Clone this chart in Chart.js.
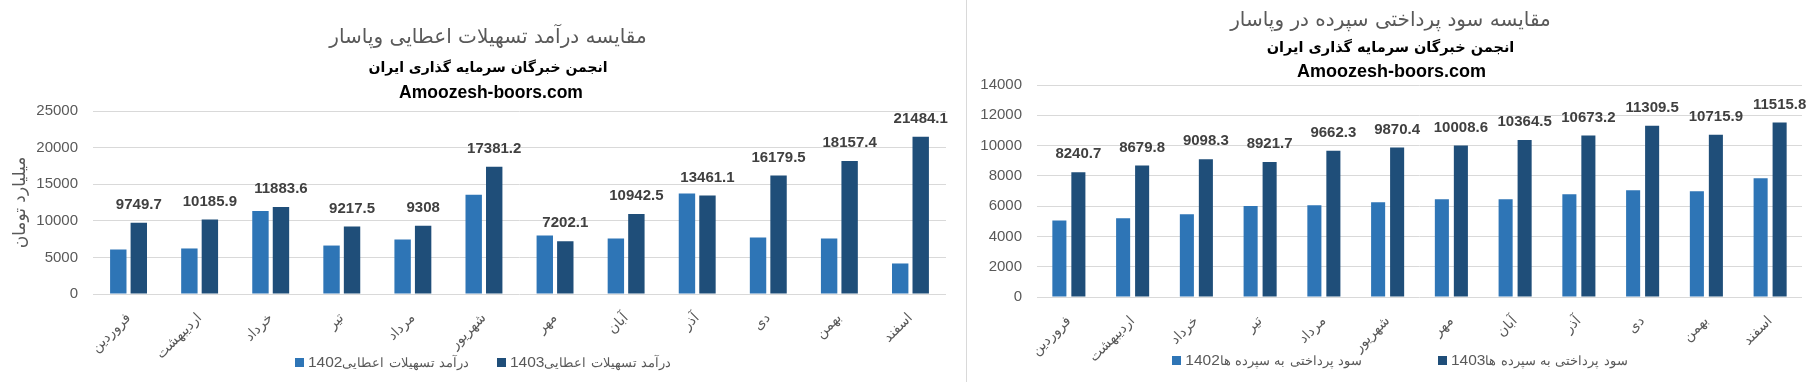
<!DOCTYPE html>
<html>
<head>
<meta charset="utf-8">
<script src="https://cdn.jsdelivr.net/npm/chart.js@4.4.0/dist/chart.umd.min.js"></script>
<style>
@font-face { font-family: "LegendFa"; src: local("DejaVu Sans"); unicode-range: U+0600-06FF, U+200C-200D, U+FB50-FDFF, U+FE70-FEFF; size-adjust: 84%; }
html, body { margin: 0; padding: 0; background: #fff; }
#wrap { position: relative; width: 1812px; height: 382px; overflow: hidden; }
.panel { position: absolute; top: 0; height: 382px; }
#p1 { left: 0; width: 966px; }
#p2 { left: 966px; width: 846px; border-left: 1px solid #d9d9d9; box-sizing: border-box; }
canvas { position: absolute; left: 0; top: 0; }
.site { position: absolute; left: 0; right: 0; text-align: center; font-family: "Liberation Sans", sans-serif; font-weight: bold; color: #000; line-height: 24px; }
#site1 { top: 80px; font-size: 17.5px; padding-left: 16px; }
#site2 { top: 59px; font-size: 18px; padding-left: 4px; }
.legend { position: absolute; left: 0; right: 0; height: 22px; display: flex; justify-content: center; align-items: center;
  font-family: "Liberation Sans", "LegendFa", "DejaVu Sans", sans-serif; font-size: 15.5px; color: #595959; }
.legend .item { display: flex; align-items: center; }
.legend .box { width: 9px; height: 9px; margin-right: 4px; }
#lg1 { top: 351px; gap: 28px; }
#lg2 { top: 349px; gap: 76px; padding-left: 21px; }
</style>
</head>
<body>
<div id="wrap">
  <div class="panel" id="p1"><canvas id="c1" width="966" height="382"></canvas><div class="site" id="site1"></div><div class="legend" id="lg1"></div></div>
  <div class="panel" id="p2"><canvas id="c2" width="845" height="382"></canvas><div class="site" id="site2"></div><div class="legend" id="lg2"></div></div>
</div>
<script>
// months of the Persian year, left to right as in the picture
const months = ['فروردین', 'اردیبهشت', 'خرداد', 'تیر', 'مرداد', 'شهریور', 'مهر', 'آبان', 'آذر', 'دی', 'بهمن', 'اسفند'];

// left chart: loan income (billion toman)
const loanIncome1402 = [6080, 6220, 11350, 6620, 7440, 13570, 7990, 7580, 13720, 7710, 7580, 4170];
const loanIncome1403 = [9749.7, 10185.9, 11883.6, 9217.5, 9308, 17381.2, 7202.1, 10942.5, 13461.1, 16179.5, 18157.4, 21484.1];

// right chart: interest paid on deposits
const depositInterest1402 = [5060, 5200, 5460, 6010, 6060, 6250, 6450, 6450, 6780, 7050, 6980, 7840];
const depositInterest1403 = [8240.7, 8679.8, 9098.3, 8921.7, 9662.3, 9870.4, 10008.6, 10364.5, 10673.2, 11309.5, 10715.9, 11515.8];

const titleLeft = 'مقایسه درآمد تسهیلات اعطایی وپاسار';
const titleRight = 'مقایسه سود پرداختی سپرده در وپاسار';
const subtitle = 'انجمن خبرگان سرمایه گذاری ایران';
const site = 'Amoozesh-boors.com';
const yTitleLeft = 'میلیارد تومان';

const light = '#2E75B6';
const dark = '#1F4E79';
const grey = '#595959';
const persianFont = '"DejaVu Sans", sans-serif';
const latinFont = '"Liberation Sans", "DejaVu Sans", sans-serif';

// value labels above the bars of one dataset
const barValueLabels = {
  id: 'barValueLabels',
  afterDatasetsDraw(chart, args, opts) {
    const ctx = chart.ctx;
    const ds = chart.data.datasets[opts.datasetIndex];
    const meta = chart.getDatasetMeta(opts.datasetIndex);
    ctx.save();
    ctx.font = 'bold 15px ' + latinFont;
    ctx.fillStyle = '#404040';
    ctx.textAlign = 'center';
    ctx.textBaseline = 'middle';
    meta.data.forEach((bar, i) => {
      ctx.fillText(String(ds.data[i]), bar.x, bar.y - opts.offset);
    });
    ctx.restore();
  }
};

function makeChart(id, cfg) {
  return new Chart(document.getElementById(id), {
    type: 'bar',
    data: {
      labels: months,
      datasets: [
        { label: cfg.labels[0], data: cfg.data[0], backgroundColor: light },
        { label: cfg.labels[1], data: cfg.data[1], backgroundColor: dark }
      ]
    },
    options: {
      responsive: false,
      animation: false,
      devicePixelRatio: 1,
      categoryPercentage: cfg.catPct,
      barPercentage: cfg.barPct,
      layout: { padding: { left: cfg.padLeft, right: cfg.padRight, top: 0, bottom: cfg.padBottom } },
      plugins: {
        legend: { display: false },
        tooltip: { enabled: false },
        title: {
          display: true, text: cfg.title, color: grey,
          font: { family: persianFont, size: cfg.titleSize, weight: 'normal', lineHeight: cfg.titleLine },
          padding: cfg.titlePad
        },
        subtitle: {
          display: true, text: subtitle, color: '#000',
          font: { family: persianFont, size: cfg.subSize, weight: 'bold', lineHeight: cfg.subLine },
          padding: cfg.subPad
        },
        barValueLabels: { datasetIndex: 1, offset: 18 }
      },
      scales: {
        x: {
          grid: { display: false },
          border: { display: false },
          ticks: {
            color: grey, font: { family: persianFont, size: 14 },
            minRotation: 45, maxRotation: 45, autoSkip: false, padding: 8
          },
          afterFit(scale) { scale.height = 66; }
        },
        y: {
          min: 0, max: cfg.max,
          grid: { color: '#d9d9d9', drawTicks: false },
          border: { display: false },
          ticks: {
            stepSize: cfg.step, color: grey, font: { family: latinFont, size: 15 }, padding: 15,
            callback: v => String(v)
          },
          title: cfg.yTitle ? {
            display: true, text: cfg.yTitle, color: grey,
            font: { family: persianFont, size: 17 }, padding: { top: 10 - cfg.padLeft, bottom: 0 }
          } : { display: false },
          afterFit(scale) { scale.width = cfg.yWidth; }
        }
      }
    },
    plugins: [barValueLabels]
  });
}

function buildLegend(chart, el) {
  chart.data.datasets.forEach(ds => {
    const item = document.createElement('span');
    item.className = 'item';
    const box = document.createElement('span');
    box.className = 'box';
    box.style.background = ds.backgroundColor;
    const txt = document.createElement('span');
    txt.textContent = ds.label;
    item.append(box, txt);
    el.append(item);
  });
}

const chart1 = makeChart('c1', {
  title: titleLeft, titleSize: 20, titleLine: '24px',
  labels: ['درآمد تسهیلات اعطایی1402', 'درآمد تسهیلات اعطایی1403'],
  data: [loanIncome1402, loanIncome1403],
  max: 25000, step: 5000, yTitle: yTitleLeft, yWidth: 63,
  padLeft: 30, padRight: 20, padBottom: 22,
  titlePad: { top: 26, bottom: 0 },
  subSize: 14, subLine: '24px', subPad: { top: 6, bottom: 31 },
  catPct: 0.577, barPct: 0.8
});

const chart2 = makeChart('c2', {
  title: titleRight, titleSize: 20, titleLine: '26px',
  labels: ['سود پرداختی به سپرده ها1402', 'سود پرداختی به سپرده ها1403'],
  data: [depositInterest1402, depositInterest1403],
  max: 14000, step: 2000, yTitle: null, yWidth: 58,
  padLeft: 12, padRight: 10, padBottom: 19,
  titlePad: { top: 8, bottom: 0 },
  subSize: 14.5, subLine: '23px', subPad: { top: 2.5, bottom: 25.5 },
  catPct: 0.596, barPct: 0.74
});

document.getElementById('site1').textContent = site;
document.getElementById('site2').textContent = site;
buildLegend(chart1, document.getElementById('lg1'));
buildLegend(chart2, document.getElementById('lg2'));
</script>
</body>
</html>
